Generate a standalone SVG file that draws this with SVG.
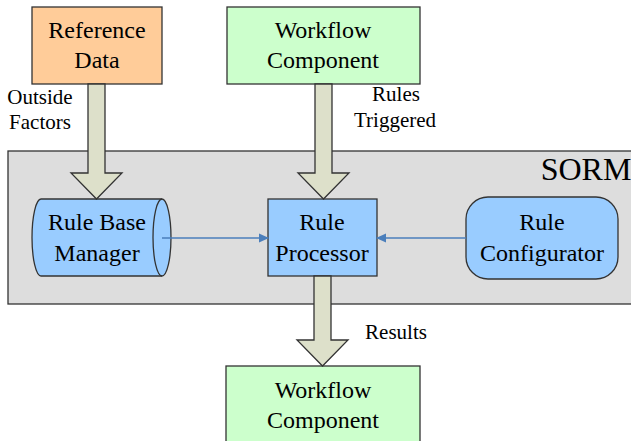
<svg xmlns="http://www.w3.org/2000/svg" width="631" height="441" viewBox="0 0 631 441">
<style>
.box{stroke:#333;stroke-width:1.3}
.t{fill:#000;text-anchor:middle}
.n{font-size:24px}
.l{font-size:21px}
.fat{fill:#DDE0CA;stroke:#333;stroke-width:1.3}
.thin{stroke:#4A7EBB;stroke-width:1.3;fill:none;marker-end:url(#ah)}
</style>
<defs>
<marker id="ah" markerWidth="10" markerHeight="10" refX="9" refY="5" orient="auto" markerUnits="userSpaceOnUse">
<path d="M0,0.5 L10,5 L0,9.5 Z" fill="#4A7EBB"/>
</marker>
</defs>
<rect width="631" height="441" fill="#fff"/>
<g font-family="Liberation Serif, DejaVu Serif, serif">
<g id="sorm">
<rect class="box" x="8" y="151" width="630" height="153" fill="#DDDDDD"/>
<text class="t" x="586" y="180" font-size="32">SORM</text>
</g>
<g id="refdata">
<rect class="box" x="32" y="7" width="130" height="77" fill="#FFCC99"/>
<text class="t n" x="97" y="38">Reference</text>
<text class="t n" x="97" y="68">Data</text>
</g>
<g id="workflow-top">
<rect class="box" x="227" y="7" width="193" height="77" fill="#CCFFCC"/>
<text class="t n" x="323" y="38">Workflow</text>
<text class="t n" x="323" y="68">Component</text>
</g>
<g id="rulebase">
<path class="box" fill="#99CCFF" d="M41,199 L162,199 A9,38.5 0 0 1 162,276 L41,276 A9,38.5 0 0 1 41,199 Z"/>
<path class="box" fill="none" d="M162,199 A9,38.5 0 0 0 162,276"/>
<text class="t n" x="97" y="230">Rule Base</text>
<text class="t n" x="97" y="261">Manager</text>
</g>
<g id="processor">
<rect class="box" x="268" y="199" width="109" height="77" fill="#99CCFF"/>
<text class="t n" x="322" y="230">Rule</text>
<text class="t n" x="322" y="261">Processor</text>
</g>
<g id="configurator">
<rect class="box" x="466" y="197" width="152" height="82" rx="22" fill="#99CCFF"/>
<text class="t n" x="542" y="230">Rule</text>
<text class="t n" x="542" y="261">Configurator</text>
</g>
<g id="workflow-bottom">
<rect class="box" x="226" y="366" width="194" height="90" fill="#CCFFCC"/>
<text class="t n" x="323" y="398">Workflow</text>
<text class="t n" x="323" y="428">Component</text>
</g>
<g id="connectors">
<path class="fat" d="M88,84 L105,84 L105,173 L122,173 L96.5,199 L71,173 L88,173 Z"/>
<path class="fat" d="M315,84 L332,84 L332,173 L349,173 L323.5,199 L298,173 L315,173 Z"/>
<path class="fat" d="M314,276 L331,276 L331,340 L348,340 L322.5,366 L297,340 L314,340 Z"/>
<line class="thin" x1="162" y1="238" x2="268" y2="238"/>
<line class="thin" x1="466" y1="238" x2="377" y2="238"/>
<text class="t l" x="40" y="104">Outside</text>
<text class="t l" x="40" y="129">Factors</text>
<text class="t l" x="396" y="101">Rules</text>
<text class="t l" x="395" y="127">Triggered</text>
<text class="t l" x="396" y="339">Results</text>
</g>
</g>
</svg>
